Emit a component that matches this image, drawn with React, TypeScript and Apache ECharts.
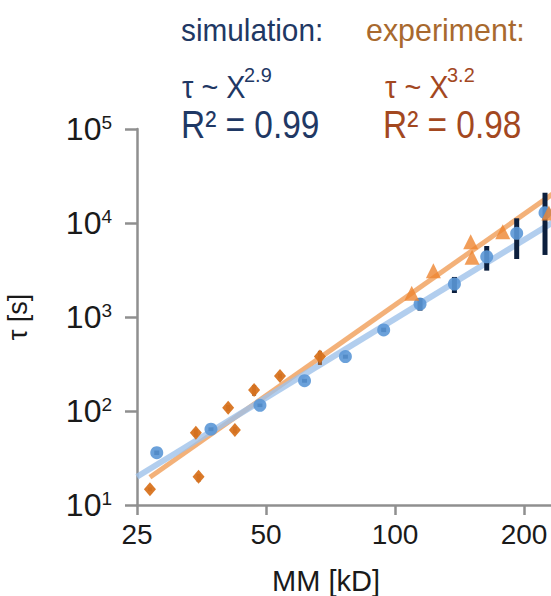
import React, { useEffect, useRef } from 'react';
import * as echarts from 'echarts';

// Simulation (blue circles) — molar mass [kD] and relaxation time τ [s]
const simMM = [27.8, 37.2, 48.4, 61.5, 76.6, 94.1, 114.4, 137.6, 163.7, 192.3, 223.9];
const simTau = [36, 64, 115, 210, 379, 728, 1374, 2244, 4375, 7762, 12880];
const simLow = [34, 61, 110, 200, 360, 690, 1170, 1799, 3113, 4140, 4571];
const simHigh = [38, 67, 120, 220, 398, 770, 1592, 2667, 5689, 11220, 20990];

// Experiment (orange diamonds, small MM)
const expDiaMM = [26.8, 34.3, 34.8, 40.8, 42.3, 46.9, 53.9, 66.8];
const expDiaTau = [14.7, 58.8, 20, 108, 62.8, 167, 236, 379];
const expDiaLow = [14, 53, 17.7, 100, 58, 145, 222, 309];
const expDiaHigh = [15.4, 64, 21.4, 116, 68, 189, 250, 437];

// Experiment (orange triangles, large MM)
const expTriMM = [109.4, 122.9, 150.2, 151.3, 178.4, 228.6];
const expTriTau = [1786, 3113, 6324, 4315, 8091, 12770];

// Power-law fit lines (end points)
const simFitMM = [25, 283];
const simFitTau = [20, 17400];
const expFitMM = [26.8, 283];
const expFitTau = [19.7, 37800];

// Axis ticks
const xTickMM = [25, 50, 100, 200];
const yTicks = [10, 100, 1000, 10000, 100000];

const FONT = 'Liberation Sans, Arial, sans-serif';
const lx = (mm: number) => Math.log2(mm / 25);

export default function App() {
  const ref = useRef<HTMLDivElement>(null);
  useEffect(() => {
    document.body.style.margin = '0';
    const chart = echarts.init(ref.current!, null, { renderer: 'svg' });

    const errRender = (color: string, w: number) => (params: any, api: any) => {
      const lo = api.coord([api.value(0), api.value(1)]);
      const hi = api.coord([api.value(0), api.value(2)]);
      return {
        type: 'rect',
        shape: { x: lo[0] - w / 2, y: hi[1], width: w, height: lo[1] - hi[1] },
        style: { fill: color },
      };
    };

    const hdr = (text: string, x: number, y: number, size: number, fill: string, sx: number) => ({
      type: 'text',
      x,
      y,
      scaleX: sx,
      style: { text, fontSize: size, fontFamily: FONT, fill, textAlign: 'left', textVerticalAlign: 'middle' },
    });

    const simCol = '#1f3864';
    const expCol1 = '#a8692e';
    const expCol2 = '#a3481f';

    chart.setOption({
      animation: false,
      backgroundColor: '#ffffff',
      grid: { left: 137, top: 129, width: 451.5, height: 376, containLabel: false, outerBoundsMode: 'none' },
      xAxis: {
        type: 'value',
        min: 0,
        max: 3.5,
        interval: 1,
        splitLine: { show: false },
        axisLine: { lineStyle: { color: '#8f8f8f', width: 2.5 } },
        axisTick: { length: 10, lineStyle: { color: '#8f8f8f', width: 2.5 } },
        axisLabel: {
          margin: 15,
          fontSize: 28,
          fontFamily: FONT,
          color: '#1a1a1a',
          formatter: (v: number) => {
            const mm = 25 * Math.pow(2, v);
            const t = xTickMM.find((m) => Math.abs(m - mm) < 0.5);
            return t !== undefined ? String(t) : '';
          },
        },
      },
      yAxis: {
        type: 'log',
        logBase: 10,
        min: yTicks[0],
        max: yTicks[yTicks.length - 1],
        splitLine: { show: false },
        name: 'τ [s]',
        nameLocation: 'middle',
        nameGap: 106,
        nameMoveOverlap: false,
        nameTextStyle: { fontSize: 27, fontFamily: FONT, color: '#1a1a1a' },
        axisLine: { lineStyle: { color: '#8f8f8f', width: 2.5 } },
        axisTick: { length: 12, lineStyle: { color: '#8f8f8f', width: 2.5 } },
        axisLabel: {
          margin: 25,
          color: '#1a1a1a',
          formatter: (v: number) => `{b|10}{s|${Math.round(Math.log10(v))}}`,
          rich: {
            b: { fontSize: 32, lineHeight: 32, fontFamily: FONT, color: '#1a1a1a' },
            s: { fontSize: 19, lineHeight: 19, fontFamily: FONT, color: '#1a1a1a', verticalAlign: 'top' },
          },
        },
      },
      graphic: [
        hdr('simulation:', 181, 30, 32, simCol, 0.93),
        hdr('τ ~ X', 182, 86, 32, simCol, 0.9),
        hdr('2.9', 244, 74, 21, simCol, 0.95),
        hdr('R² = 0.99', 181, 125, 38, simCol, 0.88),
        hdr('experiment:', 366, 30, 32, expCol1, 0.95),
        hdr('τ ~ X', 385, 86, 32, expCol2, 0.9),
        hdr('3.2', 447, 74, 21, expCol2, 0.95),
        hdr('R² = 0.98', 383, 125, 38, expCol2, 0.88),
        {
          type: 'text',
          x: 326,
          y: 581,
          style: { text: 'MM [kD]', fontSize: 29, fontFamily: FONT, fill: '#1a1a1a', textAlign: 'center', textVerticalAlign: 'middle' },
        },
      ],
      series: [
        {
          type: 'line',
          z: 2,
          symbol: 'none',
          lineStyle: { color: '#f2a86a', width: 5, opacity: 0.9 },
          data: expFitMM.map((m, i) => [lx(m), expFitTau[i]]),
        },
        {
          type: 'line',
          z: 2,
          symbol: 'none',
          lineStyle: { color: '#9fc2ea', width: 6, opacity: 0.8 },
          data: simFitMM.map((m, i) => [lx(m), simFitTau[i]]),
        },
        {
          type: 'custom',
          z: 3,
          renderItem: errRender('#0c1f3d', 5),
          encode: { x: 0, y: [1, 2] },
          data: simMM.map((m, i) => [lx(m), simLow[i], simHigh[i]]),
        },
        {
          type: 'custom',
          z: 3,
          renderItem: errRender('#8a5a3a', 4),
          encode: { x: 0, y: [1, 2] },
          data: expDiaMM.map((m, i) => [lx(m), expDiaLow[i], expDiaHigh[i]]),
        },
        {
          type: 'scatter',
          z: 4,
          symbol: 'circle',
          symbolSize: 13,
          itemStyle: { color: '#5b97d6', opacity: 0.9 },
          data: simMM.map((m, i) => [lx(m), simTau[i]]),
        },
        {
          type: 'scatter',
          z: 4,
          symbol: 'diamond',
          symbolSize: [12, 14],
          itemStyle: { color: '#d8731f', opacity: 0.95 },
          data: expDiaMM.map((m, i) => [lx(m), expDiaTau[i]]),
        },
        {
          type: 'scatter',
          z: 4,
          symbol: 'triangle',
          symbolSize: 15,
          itemStyle: { color: '#ee8530' },
          data: expTriMM.map((m, i) => [lx(m), expTriTau[i]]),
        },
      ],
    });
    return () => chart.dispose();
  }, []);
  return <div ref={ref} style={{ width: 551, height: 596 }} />;
}
